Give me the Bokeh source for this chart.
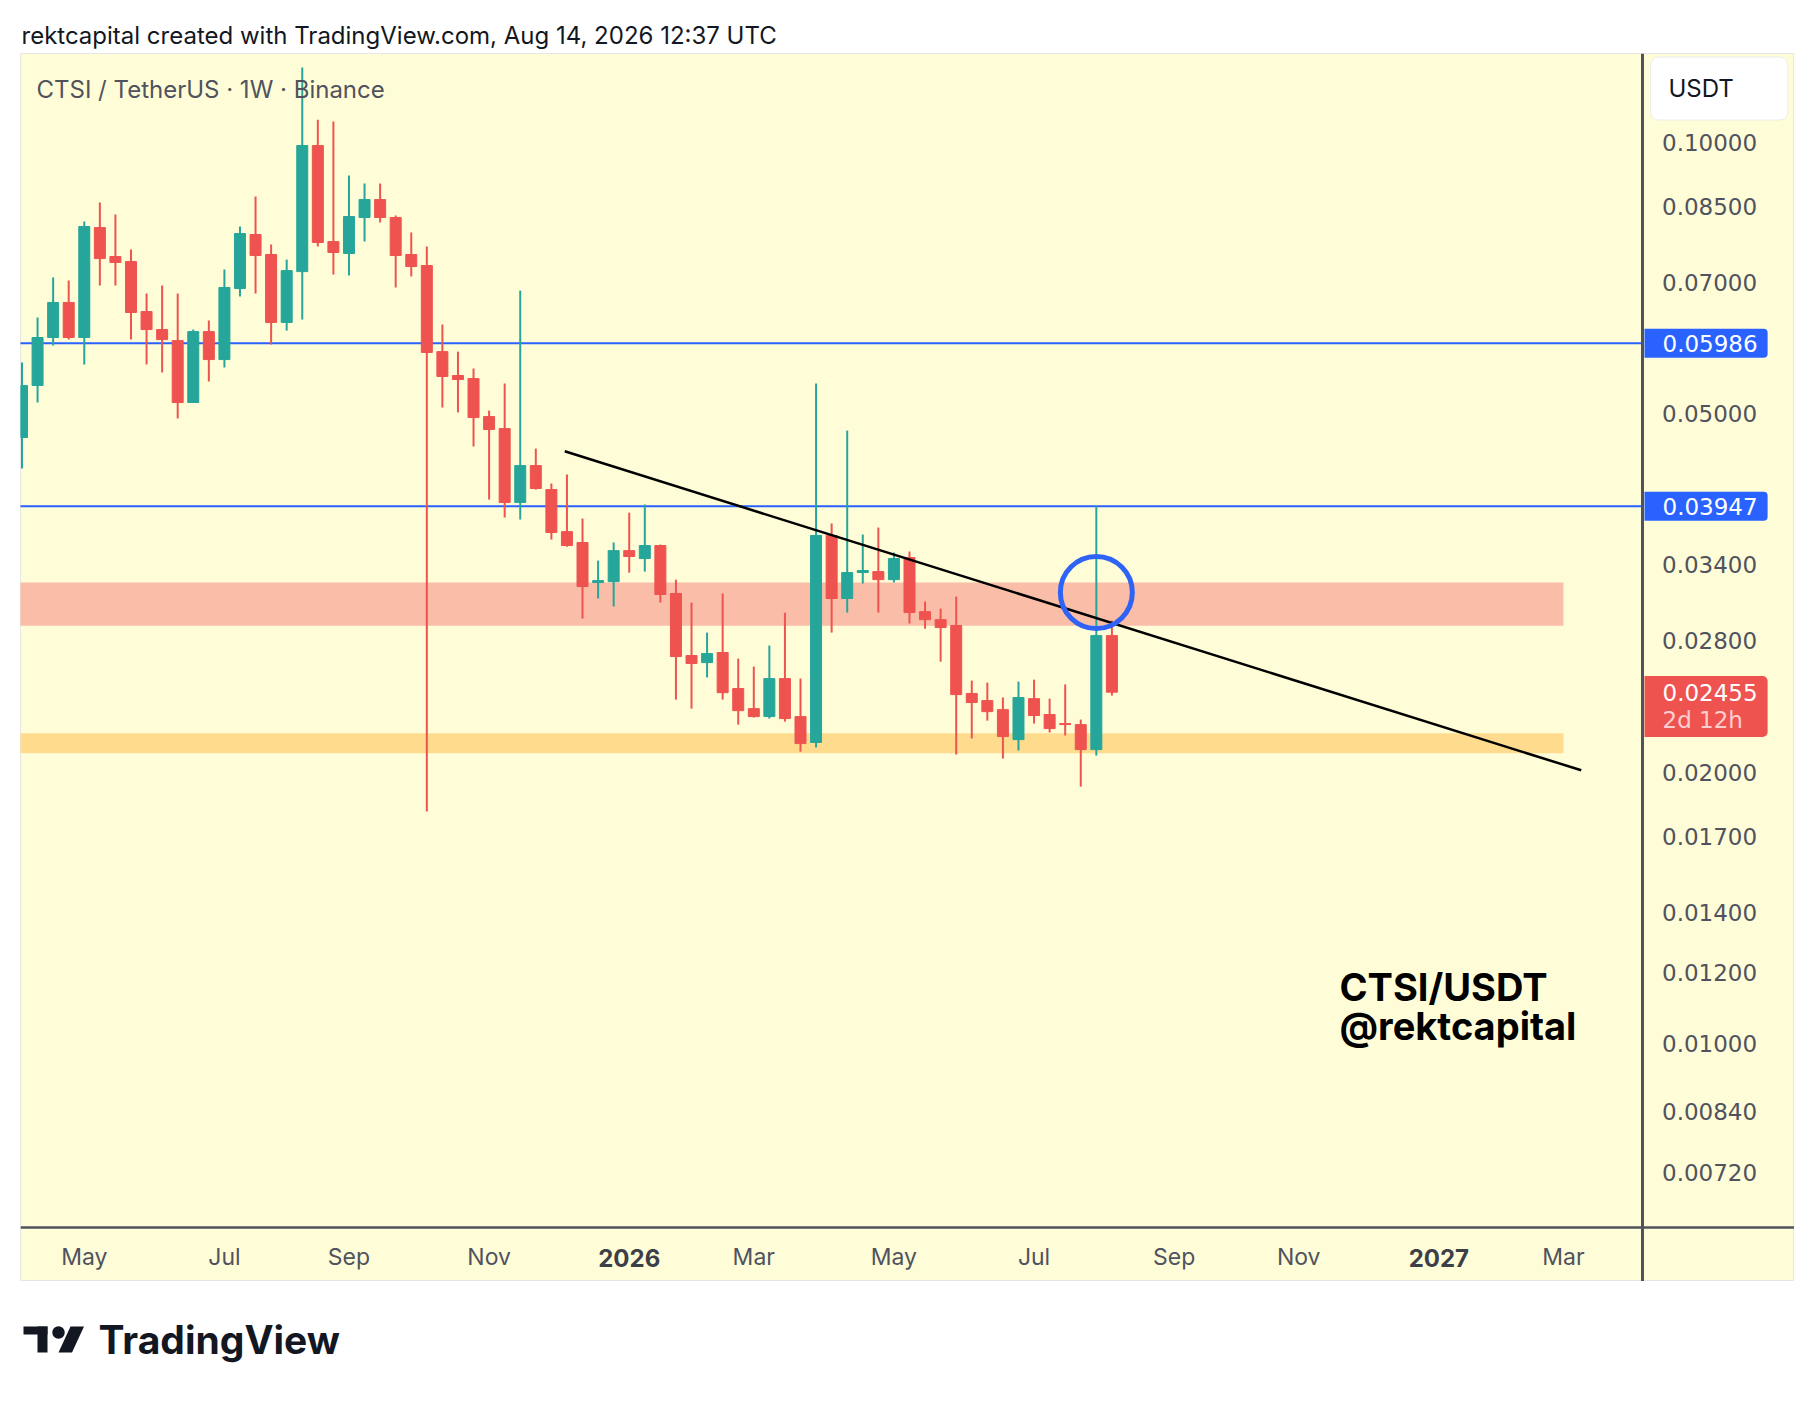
import pandas as pd
from bokeh.plotting import figure
from bokeh.layouts import column
from bokeh.models import Range1d, FixedTicker, PrintfTickFormatter, Label
from bokeh.core.properties import value
from bokeh.embed import file_html
from bokeh.resources import INLINE

# ---------------- data ----------------
first_week = "2025-04-07"
opens = [0.04706, 0.05375, 0.06076, 0.06645, 0.06076, 0.08047, 0.07473, 0.07376, 0.06492, 0.06201,
         0.06028, 0.05146, 0.06168, 0.05743, 0.06886, 0.07905, 0.07511, 0.06314, 0.07190, 0.09923,
         0.07763, 0.07531, 0.08256, 0.08643, 0.08256, 0.07511, 0.07303, 0.05861, 0.05514, 0.05471,
         0.04965, 0.04815, 0.03986, 0.04381, 0.04120, 0.03700, 0.03599, 0.03249, 0.03256, 0.03525,
         0.03454, 0.03571, 0.03159, 0.02696, 0.02648, 0.02717, 0.02478, 0.02354, 0.02307, 0.02542,
         0.02307, 0.02159, 0.03664, 0.03119, 0.03333, 0.03341, 0.03273, 0.03463, 0.03016, 0.02955,
         0.02911, 0.02447, 0.02403, 0.02348, 0.02175, 0.02415, 0.02319, 0.02266, 0.02260, 0.02120,
         0.02837]
highs = [0.05700, 0.06394, 0.07082, 0.07027, 0.08170, 0.08579, 0.08320, 0.07607, 0.06799, 0.06939,
         0.06799, 0.06201, 0.06345, 0.07228, 0.08068, 0.08711, 0.07706, 0.07415, 0.12110, 0.10600,
         0.10550, 0.09191, 0.09006, 0.09006, 0.08298, 0.07946, 0.07666, 0.06281, 0.05861, 0.05613,
         0.05041, 0.05402, 0.06850, 0.04575, 0.04184, 0.04282, 0.03826, 0.03436, 0.03599, 0.03884,
         0.03966, 0.03580, 0.03273, 0.03086, 0.02859, 0.03159, 0.02675, 0.02621, 0.02766, 0.03008,
         0.02542, 0.05402, 0.03778, 0.04790, 0.03673, 0.03739, 0.03508, 0.03517, 0.03095, 0.03040,
         0.03135, 0.02529, 0.02516, 0.02422, 0.02522, 0.02535, 0.02415, 0.02504, 0.02289, 0.03950,
         0.02948]
lows = [0.04347, 0.05146, 0.05953, 0.06044, 0.05671, 0.06939, 0.06939, 0.06044, 0.05671, 0.05556,
        0.04940, 0.05140, 0.05429, 0.05627, 0.06747, 0.06799, 0.05968, 0.06184, 0.06361, 0.07666,
        0.07137, 0.07119, 0.07763, 0.08151, 0.06904, 0.07101, 0.01810, 0.05081, 0.05017, 0.04599,
        0.04016, 0.03836, 0.03816, 0.04120, 0.03626, 0.03560, 0.02963, 0.03119, 0.03056, 0.03332,
        0.03341, 0.03087, 0.02409, 0.02354, 0.02549, 0.02409, 0.02260, 0.02301, 0.02295, 0.02277,
        0.02109, 0.02131, 0.02859, 0.03009, 0.03241, 0.03009, 0.03249, 0.02926, 0.02888, 0.02654,
        0.02094, 0.02181, 0.02283, 0.02072, 0.02115, 0.02266, 0.02215, 0.02198, 0.01929, 0.02088,
        0.02434]
closes = [0.05375, 0.06076, 0.06645, 0.06076, 0.08068, 0.07434, 0.07360, 0.06477, 0.06201, 0.06044,
          0.05146, 0.06168, 0.05743, 0.06904, 0.07926, 0.07492, 0.06314, 0.07209, 0.09923, 0.07745,
          0.07550, 0.08277, 0.08643, 0.08256, 0.07492, 0.07284, 0.05848, 0.05500, 0.05457, 0.04952,
          0.04803, 0.03986, 0.04381, 0.04131, 0.03692, 0.03571, 0.03216, 0.03265, 0.03525, 0.03472,
          0.03571, 0.03151, 0.02689, 0.02642, 0.02710, 0.02452, 0.02342, 0.02307, 0.02542, 0.02295,
          0.02153, 0.03664, 0.03119, 0.03333, 0.03350, 0.03273, 0.03454, 0.03009, 0.02955, 0.02896,
          0.02440, 0.02391, 0.02336, 0.02192, 0.02422, 0.02313, 0.02237, 0.02260, 0.02120, 0.02837,
          0.02455]

price_ticks = [0.1, 0.085, 0.07, 0.05, 0.034, 0.028, 0.02, 0.017, 0.014, 0.012, 0.01, 0.0084, 0.0072]
month_tick_dates = ["2025-05-05", "2025-07-07", "2025-09-01", "2025-11-03", "2026-01-05", "2026-03-02",
                    "2026-05-04", "2026-07-06", "2026-09-07", "2026-11-02", "2027-01-04", "2027-03-01"]
month_tick_labels = ["May", "Jul", "Sep", "Nov", "2026", "Mar", "May", "Jul", "Sep", "Nov", "2027", "Mar"]
year_labels = ["2026", "2027"]

levels = [0.05986, 0.03947]
level_labels = ["0.05986", "0.03947"]
last_price = 0.02455
last_price_label = "0.02455"
countdown = "2d 12h"
currency = "USDT"

resistance_zone = [0.0291, 0.0325]
support_zone = [0.0210, 0.0221]
zone_end = "2027-03-01"

trend_dates = ["2025-12-07", "2027-03-09"]
trend_prices = [0.04543, 0.02011]

highlight_date = ["2026-08-03"]
highlight_price = [0.03167]

header = "rektcapital created with TradingView.com, Aug 14, 2026 12:37 UTC"
legend_text = "CTSI / TetherUS · 1W · Binance"
watermark = ["CTSI/USDT", "@rektcapital"]

# ---------------- layout helpers ----------------
DAY = 86400000
PX_PER_DAY = 15.57 / 7.0
YEL = "#FFFDD8"
GREEN = "#26A69A"
RED = "#EF5350"
BLUE = "#2962FF"
GREY = "#50535E"
FONT = "Inter"
NUMFONT = "DejaVu Sans"


def ms(d):
    return int(pd.Timestamp(d).value // 10**6)


dates = pd.date_range(first_week, periods=len(opens), freq="7D")
t = [int(d.value // 10**6) for d in dates]
t0 = t[0]

YTOP, YBOT = 53, 1227
P_TOP, P_BOT = 0.12553, 0.006253


def xpx(px):
    return t0 + (px - 21.5) / PX_PER_DAY * DAY


def ypx(py):
    return P_TOP * (P_BOT / P_TOP) ** ((py - YTOP) / (YBOT - YTOP))


# ---------------- header ----------------
h = figure(width=1814, height=53, x_range=Range1d(0, 1814), y_range=Range1d(0, 53),
           x_axis_type=None, y_axis_type=None, toolbar_location=None, output_backend="svg",
           min_border=0, outline_line_color=None, background_fill_color="white",
           border_fill_color="white")
h.text(x=[21], y=[18], text=[header], text_font=value(FONT), text_font_size="24px",
       text_baseline="middle", text_color="#131722")

# ---------------- main chart (frame = whole yellow pane) ----------------
p = figure(width=1774, height=1228, x_range=Range1d(xpx(20), xpx(1794)),
           y_range=Range1d(ypx(1281), ypx(53)), y_axis_type="log", y_axis_location="right",
           output_backend="svg", toolbar_location=None, min_border=0,
           background_fill_color=YEL, border_fill_color="white",
           outline_line_color="#E6E6E6", outline_line_width=1, margin=(0, 0, 0, 20))
p.grid.visible = False

# zones
p.quad(left=[t0 - 60 * DAY], right=[ms(zone_end)], bottom=[resistance_zone[0]], top=[resistance_zone[1]],
       fill_color="#F9BDA8", line_color=None)
p.quad(left=[t0 - 60 * DAY], right=[ms(zone_end)], bottom=[support_zone[0]], top=[support_zone[1]],
       fill_color="#FFDB8E", line_color=None)

# horizontal levels (end at the price scale)
p.segment(x0=[t0 - 60 * DAY] * len(levels), x1=[xpx(1642)] * len(levels), y0=levels, y1=levels,
          line_color=BLUE, line_width=2)

# candles
colors = [GREEN if c >= o else RED for o, c in zip(opens, closes)]
tops = [max(o, c) for o, c in zip(opens, closes)]
bots = [min(o, c) for o, c in zip(opens, closes)]
p.segment(x0=t, y0=lows, x1=t, y1=highs, line_color=colors, line_width=2)
p.vbar(x=t, width=11 / PX_PER_DAY * DAY, top=tops, bottom=bots, fill_color=colors,
       line_color=colors, line_width=1)

# trend line
p.line(x=[ms(d) for d in trend_dates], y=trend_prices, line_color="black", line_width=2.5)

# highlight circle
p.scatter(x=[ms(d) for d in highlight_date], y=highlight_price, marker="circle", size=72,
          fill_color=None, line_color="#2F63F5", line_width=5)

# price axis drawn inside the pane
p.yaxis.fixed_location = xpx(1641.5)
p.yaxis.ticker = FixedTicker(ticks=price_ticks)
p.yaxis.formatter = PrintfTickFormatter(format="%.5f")
p.yaxis.major_tick_line_color = None
p.yaxis.minor_tick_line_color = None
p.yaxis.major_tick_out = 0
p.yaxis.major_tick_in = 0
p.yaxis.axis_line_color = GREY
p.yaxis.axis_line_width = 3
p.yaxis.major_label_standoff = 20
p.yaxis.major_label_text_font = NUMFONT
p.yaxis.major_label_text_font_size = "23px"
p.yaxis.major_label_text_color = GREY

# time axis drawn inside the pane
tick_ms = [ms(d) for d in month_tick_dates]
p.xaxis.fixed_location = ypx(1227)
p.xaxis.ticker = FixedTicker(ticks=tick_ms)
p.xaxis.major_label_overrides = {k: ("" if lab in year_labels else lab)
                                 for k, lab in zip(tick_ms, month_tick_labels)}
p.xaxis.major_tick_line_color = None
p.xaxis.minor_tick_line_color = None
p.xaxis.major_tick_out = 0
p.xaxis.major_tick_in = 0
p.xaxis.axis_line_color = GREY
p.xaxis.axis_line_width = 2.5
p.xaxis.major_label_standoff = 15
p.xaxis.major_label_text_font = FONT
p.xaxis.major_label_text_font_size = "23px"
p.xaxis.major_label_text_color = GREY

for k, lab in zip(tick_ms, month_tick_labels):
    if lab in year_labels:
        p.add_layout(Label(x=k, y=ypx(1257), text=lab, text_align="center", text_baseline="middle",
                           text_font=FONT, text_font_size="24px", text_font_style="bold",
                           text_color="#3D3F48"))

# texts inside chart
p.add_layout(Label(x=xpx(36), y=ypx(89), text=legend_text, text_font=FONT, text_font_size="24px",
                   text_color=GREY, text_baseline="middle"))
p.add_layout(Label(x=xpx(1339), y=ypx(986), text=watermark[0], text_font=FONT, text_font_size="38px",
                   text_font_style="bold", text_color="black", text_baseline="middle"))
p.add_layout(Label(x=xpx(1339), y=ypx(1025), text=watermark[1], text_font=FONT, text_font_size="38px",
                   text_font_style="bold", text_color="black", text_baseline="middle"))

# price scale badges (anchor = left edge of the box)
p.add_layout(Label(x=xpx(1650), y=ypx(88), text=currency, text_font=FONT, text_font_size="24px",
                   text_color="#131722", text_baseline="middle", background_fill_color="white",
                   border_line_color="#ECECEC", border_line_width=1, border_radius=8,
                   padding=dict(left=18, right=54, top=17, bottom=17)))
for lv, lab in zip(levels, level_labels):
    p.add_layout(Label(x=xpx(1644), y=lv, text=lab, text_font=NUMFONT, text_font_size="23px",
                       text_color="white", text_baseline="middle", background_fill_color=BLUE,
                       border_radius=(0, 4, 4, 0), padding=dict(left=18, right=10, top=6, bottom=6)))
p.add_layout(Label(x=xpx(1644), y=ypx(706), text=last_price_label, text_font=NUMFONT,
                   text_font_size="23px", text_color="white", text_baseline="middle",
                   background_fill_color=RED, border_radius=(0, 5, 5, 0),
                   padding=dict(left=18, right=10, top=8, bottom=36)))
p.add_layout(Label(x=xpx(1662), y=ypx(719), text=countdown, text_font=NUMFONT, text_font_size="23px",
                   text_color="#FCCFCF", text_baseline="middle"))

# ---------------- footer ----------------
f = figure(width=1814, height=121, x_range=Range1d(0, 1814), y_range=Range1d(0, 121),
           x_axis_type=None, y_axis_type=None, toolbar_location=None, output_backend="svg",
           min_border=0, outline_line_color=None, background_fill_color="white",
           border_fill_color="white")
f.quad(left=[23], right=[47], top=[76], bottom=[68], fill_color="#131722", line_color=None)
f.quad(left=[37], right=[47], top=[76], bottom=[50], fill_color="#131722", line_color=None)
f.scatter(x=[58], y=[70], size=12.5, marker="circle", fill_color="#131722", line_color=None)
f.patch(x=[70, 83.5, 71.5, 58], y=[76, 76, 50, 50], fill_color="#131722", line_color=None)
f.text(x=[98], y=[63], text=["TradingView"], text_font=value(FONT), text_font_size="39px",
       text_font_style="bold", text_baseline="middle", text_color="#131722")

layout = column(h, p, f)
open("out.html", "w").write(file_html(layout, INLINE))
